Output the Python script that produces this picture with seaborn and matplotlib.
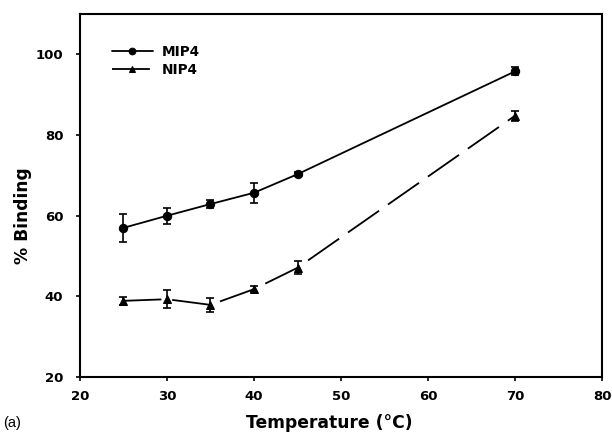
import numpy as np
import pandas as pd
import matplotlib
matplotlib.use("Agg")
import matplotlib.pyplot as plt
import seaborn as sns

# === Data ===
temperature = [25, 30, 35, 40, 45, 70]
mip4_binding = [57.0, 60.0, 62.9, 65.7, 70.3, 95.8]
mip4_err = [3.5, 2.0, 1.0, 2.5, 0.5, 1.0]
nip4_binding = [38.9, 39.3, 37.9, 41.8, 47.1, 84.8]
nip4_err = [1.0, 2.2, 1.8, 0.7, 1.6, 1.2]

df = pd.DataFrame({
    "Temperature": temperature * 2,
    "Binding": mip4_binding + nip4_binding,
    "Polymer": ["MIP4"] * len(temperature) + ["NIP4"] * len(temperature),
})

sns.set_style("ticks")
plt.rcParams["font.family"] = ["DejaVu Sans"]
plt.rcParams["text.color"] = "black"
plt.rcParams["axes.labelcolor"] = "black"
plt.rcParams["xtick.color"] = "black"
plt.rcParams["ytick.color"] = "black"

fig = plt.figure(figsize=(6.12, 4.41), dpi=100)
ax = fig.add_axes([0.1307, 0.145, 0.853, 0.823])

sns.lineplot(data=df, x="Temperature", y="Binding", hue="Polymer", style="Polymer",
             palette=["black", "black"], markers={"MIP4": "o", "NIP4": "^"},
             dashes={"MIP4": "", "NIP4": (21, 5.5)}, linewidth=1.3, markersize=6,
             markeredgecolor="black", ax=ax)

# long-dash pattern for the NIP4 curve (dash ~38 px, gap ~10 px in the original)
for ln in ax.lines:
    if ln.get_marker() == "^":
        ln.set_linestyle((0, (21, 6)))

# error bars drawn separately (values read from the figure, not computed)
ax.errorbar(temperature, mip4_binding, yerr=mip4_err, fmt="none", ecolor="black",
            elinewidth=1.2, capsize=3, capthick=1.2)
ax.errorbar(temperature, nip4_binding, yerr=nip4_err, fmt="none", ecolor="black",
            elinewidth=1.2, capsize=3, capthick=1.2)

ax.set_xlim(20, 80)
ax.set_ylim(20, 110)
ax.set_xticks([20, 30, 40, 50, 60, 70, 80])
ax.set_yticks([20, 40, 60, 80, 100])
for lab in ax.get_xticklabels() + ax.get_yticklabels():
    lab.set_fontweight("bold")
ax.tick_params(labelsize=9.5, width=1.2, length=3, direction="out", colors="black")
ax.tick_params(axis="x", pad=6)
ax.tick_params(axis="y", pad=9)
for sp in ax.spines.values():
    sp.set_visible(True)
    sp.set_linewidth(1.5)
    sp.set_color("black")

ax.set_xlabel("Temperature (°C)", fontsize=12.3, fontweight="bold", color="black")
ax.set_ylabel("% Binding", fontsize=12.3, fontweight="bold", color="black")
ax.xaxis.set_label_coords(0.477, -0.102)
ax.yaxis.set_label_coords(-0.092, 0.446)

leg = ax.legend(loc="upper left", bbox_to_anchor=(0.061, 0.915), frameon=False,
                fontsize=9.8, handlelength=3.0, handletextpad=0.66, labelspacing=0.3,
                borderpad=0, borderaxespad=0, markerscale=0.8)
for t in leg.get_texts():
    t.set_fontweight("bold")
    t.set_color("black")

fig.text(0.005, 0.032, "(a)", fontsize=10.5, family="Liberation Sans", color="black")

fig.savefig("out.png", dpi=100)
